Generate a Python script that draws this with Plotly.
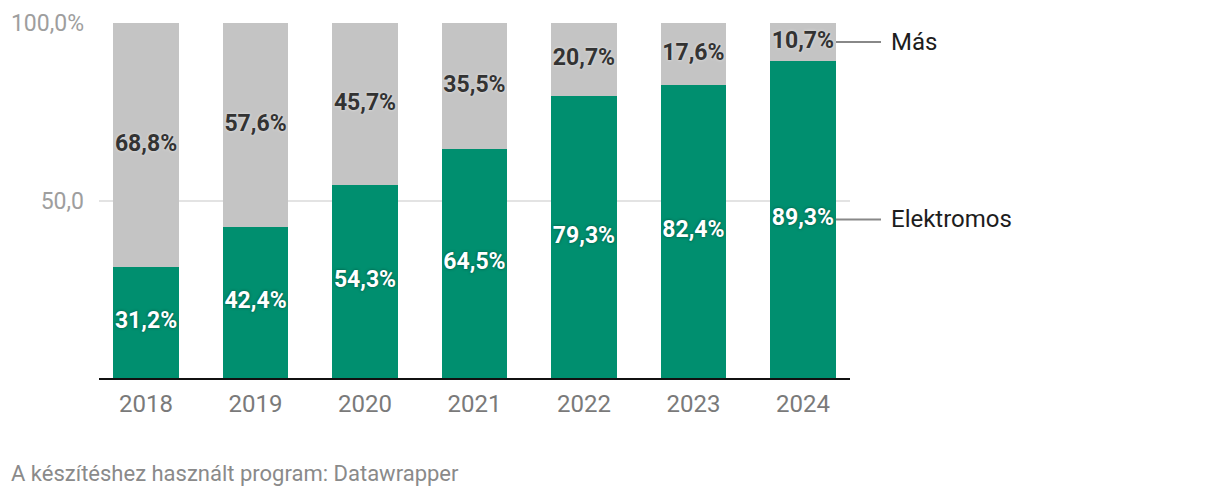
import plotly.graph_objects as go

years = ["2018", "2019", "2020", "2021", "2022", "2023", "2024"]
elektromos = [31.2, 42.4, 54.3, 64.5, 79.3, 82.4, 89.3]
mas = [68.8, 57.6, 45.7, 35.5, 20.7, 17.6, 10.7]
series_names = ["Elektromos", "Más"]
y_tickvals = [50, 100]
y_ticktext = ["50,0", "100,0%"]
footer = "A készítéshez használt program: Datawrapper"

GREEN = "#008f6f"
GRAY = "#c4c4c4"
FONT = "Roboto"

def fmt(v):
    return f"{v:.1f}".replace(".", ",") + "%"

fig = go.Figure()
fig.add_trace(go.Bar(x=years, y=elektromos, name=series_names[0], marker=dict(color=GREEN, line=dict(width=0)),
                     width=0.6, hoverinfo="skip"))
fig.add_trace(go.Bar(x=years, y=mas, name=series_names[1], marker=dict(color=GRAY, line=dict(width=0)),
                     width=0.6, hoverinfo="skip"))

# value labels centred within each segment
fig.add_trace(go.Scatter(x=years, y=[v / 2 for v in elektromos], mode="text",
                         text=[fmt(v) for v in elektromos],
                         textfont=dict(family=FONT, size=23, color="white", weight="bold",
                                       shadow="0px 0px 3px #00513f"),
                         hoverinfo="skip", showlegend=False))
fig.add_trace(go.Scatter(x=years, y=[e + m / 2 for e, m in zip(elektromos, mas)], mode="text",
                         text=[fmt(v) for v in mas],
                         textfont=dict(family=FONT, size=23, color="#333333", weight="bold",
                                       shadow="0px 0px 3px #e8e8e8"),
                         hoverinfo="skip", showlegend=False))

# page body has an 8px margin; compensate
OFF = 8
W, H = 1220 - OFF, 500 - OFF
L, T = 99 - OFF, 23 - OFF
pw, ph = 751, 355
R = W - L - pw
B = H - T - ph

def px_to_paper_x(px):
    return (px - OFF - L) / pw

def px_to_paper_y(py):
    return (T + ph - (py - OFF)) / ph

# direct labels on the right
last_e = elektromos[-1]
last_m = mas[-1]
label_ys = [last_e / 2, last_e + last_m / 2]
for name, yv in zip(series_names, label_ys):
    fig.add_shape(type="line", xref="paper", yref="y",
                  x0=px_to_paper_x(836), x1=px_to_paper_x(881), y0=yv, y1=yv,
                  line=dict(color="#888888", width=2))
    fig.add_annotation(xref="paper", yref="y", x=px_to_paper_x(889), y=yv, text=name,
                       showarrow=False, xanchor="left", yanchor="middle",
                       font=dict(family=FONT, size=24, color="#1d1d1d"))

fig.add_annotation(xref="paper", yref="paper", x=px_to_paper_x(9), y=px_to_paper_y(473), text=footer,
                   showarrow=False, xanchor="left", yanchor="middle",
                   font=dict(family=FONT, size=22, color="#8a8a8a"))

fig.update_layout(
    width=W, height=H, barmode="stack", showlegend=False,
    margin=dict(l=L, r=R, t=T, b=B, pad=0, autoexpand=False),
    plot_bgcolor="white", paper_bgcolor="white",
    font=dict(family=FONT),
    xaxis=dict(range=[-0.43, 6.43], showgrid=False, showline=True, linecolor="#111111", linewidth=2,
               ticks="", tickfont=dict(family=FONT, size=24, color="#7a7a7a"), ticklabelstandoff=3,
               fixedrange=True, automargin=False),
    yaxis=dict(range=[0, 100], tickvals=y_tickvals, ticktext=y_ticktext, showgrid=True,
               gridcolor="#e3e3e3", gridwidth=2, zeroline=False, showline=False, ticks="",
               tickfont=dict(family=FONT, size=23, color="#9e9e9e"), ticklabelstandoff=14,
               fixedrange=True, automargin=False),
)

fig.write_html("out.html")
